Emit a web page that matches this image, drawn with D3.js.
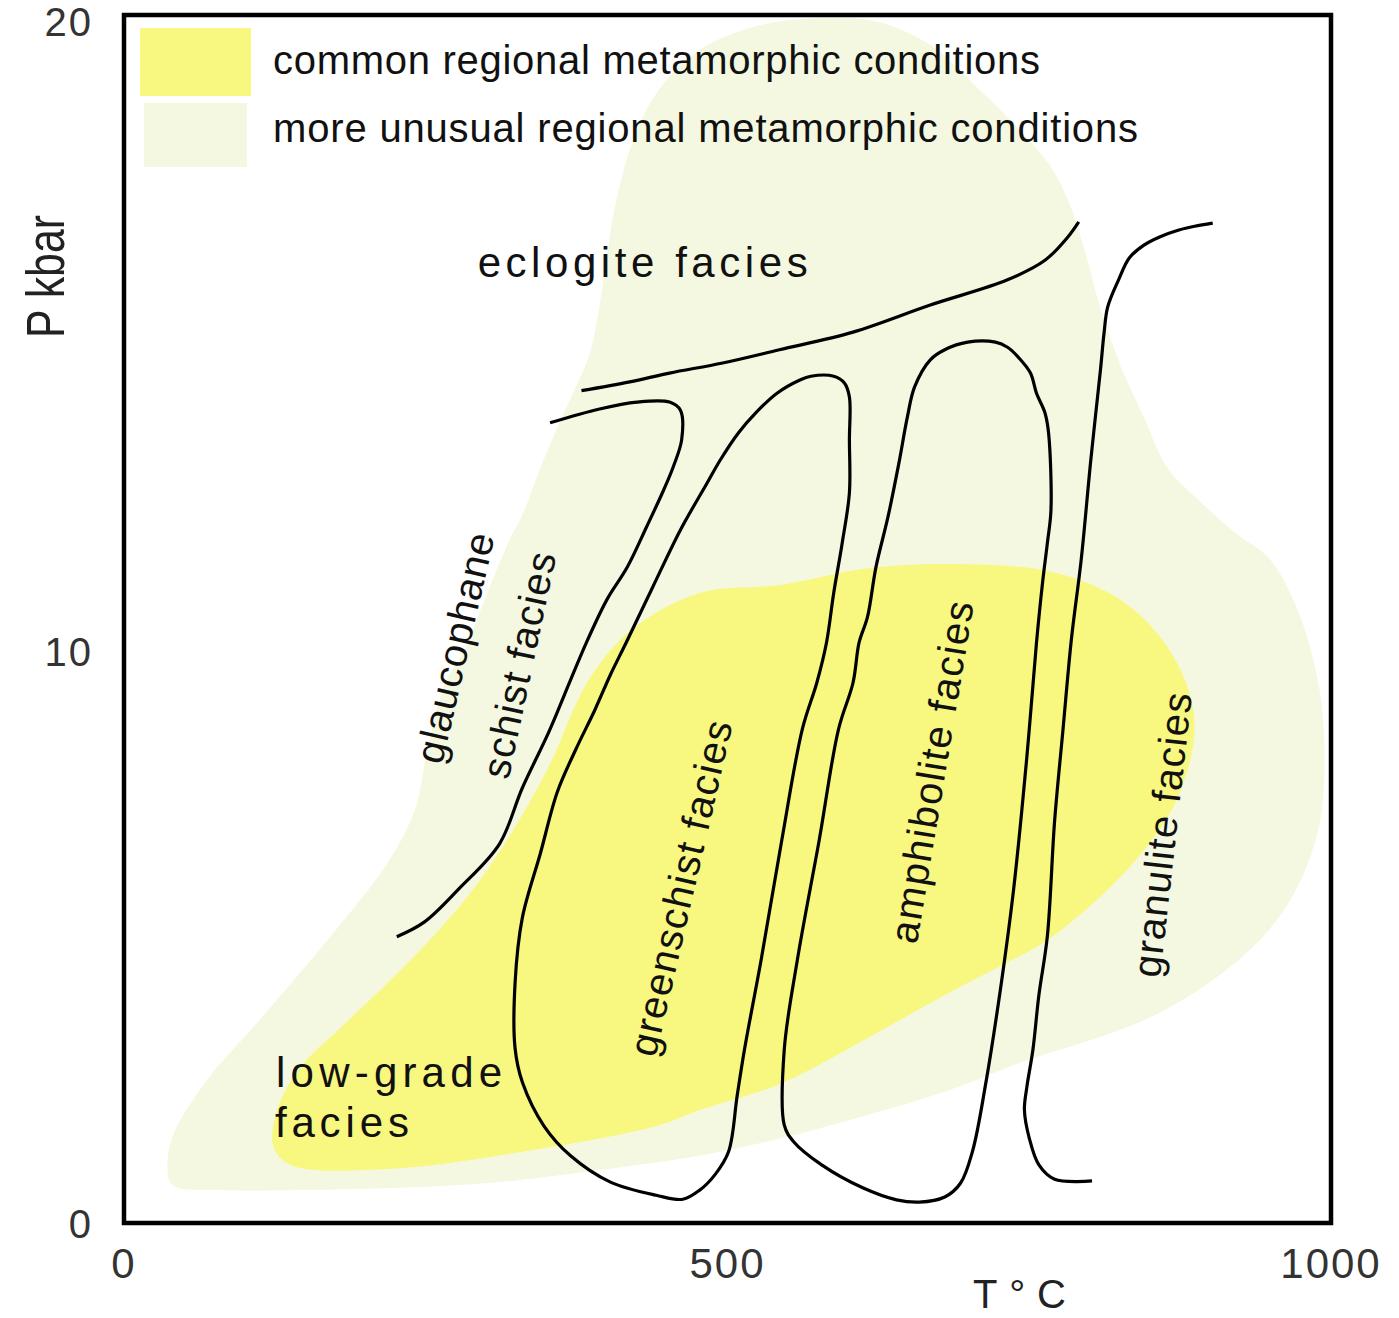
<!DOCTYPE html>
<html>
<head>
<meta charset="utf-8">
<title>regional metamorphic facies</title>
<script src="https://d3js.org/d3.v7.min.js"></script>
<style>
  body { margin: 0; background: #fff; }
  text { font-family: "Liberation Sans", Arial, sans-serif; fill: #111; }
</style>
</head>
<body>
<svg id="chart"></svg>
<script>
// outlines and boundaries, points are [T in °C, P in kbar]
const unusualRegion = [
  [40,0.63],[36,0.98],[41,1.52],[70,2.50],[108,3.41],[145,4.32],[181,5.23],[219,6.28],
  [241,7.19],[252,8.32],[267,9.46],[281,9.93],[299,10.79],[318,11.67],[331,12.17],[344,12.83],
  [357,13.43],[370,13.98],[386,14.70],[394,15.46],[403,16.62],[408,17.13],[419,17.92],[440,18.79],
  [477,19.51],[527,19.90],[585,20.02],[626,19.95],[668,19.59],[705,18.95],[742,18.24],[767,17.68],
  [782,17.13],[796,16.33],[807,15.54],[826,14.48],[845,13.68],[864,12.89],[890,12.37],[921,11.84],
  [950,11.41],[974,10.54],[989,9.46],[994,8.60],[991,6.99],[971,5.79],[944,4.98],[900,4.18],
  [849,3.55],[799,3.15],[748,2.81],[680,2.26],[610,1.82],[545,1.45],[477,1.14],[394,0.89],
  [312,0.68],[229,0.58],[146,0.54],[80,0.54]
];
const commonRegion = [
  [124,1.29],[126,1.89],[145,2.66],[181,3.41],[237,4.55],[285,5.68],[322,6.82],[352,7.95],
  [385,9.46],[422,10.33],[477,10.89],[545,11.02],[612,11.27],[680,11.35],[765,11.24],[815,10.90],
  [849,10.40],[877,9.56],[887,8.60],[873,7.40],[849,6.59],[815,5.79],[765,4.91],[731,4.51],
  [680,3.95],[612,3.15],[545,2.41],[477,1.94],[441,1.66],[330,1.21],[219,0.91],[138,0.98]
];
const eclogiteLine = [
  [379,14.10],[419,14.24],[452,14.38],[496,14.54],[543,14.75],[604,15.03],[668,15.46],
  [732,15.86],[763,16.17],[782,16.54],[791,16.78]
];
const blueschistLine = [
  [353,13.59],[394,13.81],[425,13.92],[452,13.92],[461,13.79],[462,13.32],[455,12.89],[447,12.52],
  [433,11.94],[417,11.30],[400,10.78],[384,10.14],[370,9.46],[352,8.55],[330,7.57],[311,6.59],
  [278,5.82],[249,5.23],[226,4.97]
];
const greenschistLoop = [
  [569,14.33],[560,14.27],[541,14.06],[524,13.76],[509,13.43],[494,13.00],[483,12.63],[461,11.89],
  [438,10.98],[416,10.10],[403,9.55],[390,8.93],[374,8.23],[359,7.50],[345,6.43],[330,5.30],
  [324,4.16],[324,3.02],[330,2.43],[348,1.66],[370,1.14],[403,0.68],[441,0.45],[463,0.38],
  [477,0.54],[490,0.82],[501,1.22],[508,2.19],[514,2.99],[528,4.58],[545,6.66],[562,8.60],
  [574,9.41],[582,10.10],[588,10.89],[595,11.68],[601,12.48],[601,13.32],[601,14.00],[597,14.22],
  [588,14.33]
];
const amphiboliteLoop = [
  [699,14.87],[722,14.87],[732,14.79],[741,14.63],[751,14.38],[756,14.06],[763,13.75],[766,13.43],
  [768,12.21],[765,11.68],[761,11.05],[756,10.10],[748,8.11],[737,5.79],[727,4.18],[714,2.41],
  [703,1.22],[693,0.66],[680,0.42],[659,0.33],[640,0.37],[612,0.58],[578,0.98],[555,1.38],
  [547,1.68],[547,2.99],[558,4.58],[576,6.66],[592,8.60],[604,9.41],[609,10.10],[616,10.51],
  [623,11.30],[633,12.10],[642,12.95],[649,13.68],[655,14.16],[668,14.59],[680,14.75]
];
const granuliteLine = [
  [902,16.76],[887,16.71],[874,16.65],[858,16.54],[845,16.41],[833,16.21],[824,15.86],[815,15.43],
  [812,15.02],[809,14.43],[801,13.00],[793,11.41],[785,10.17],[778,8.60],[771,6.99],[765,4.98],
  [758,3.95],[753,2.99],[748,2.34],[746,1.94],[750,1.45],[758,0.98],[771,0.73],[802,0.70]
];

// labels: text, anchor [T, P], rotation, drawn length in px
const flatLabels = [
  { text: "eclogite facies", T: 293, P: 15.90, len: 330 },
  { text: "low-grade", T: 126, P: 2.34, len: 226 },
  { text: "facies", T: 125, P: 1.47, len: 134 }
];
const tiltedLabels = [
  { text: "glaucophane", T: 274, P: 10.02, angle: -77, len: 235 },
  { text: "schist facies", T: 327, P: 9.72, angle: -78, len: 230 },
  { text: "greenschist facies", T: 461, P: 5.82, angle: -77, len: 343 },
  { text: "amphibolite facies", T: 669, P: 7.85, angle: -80.5, len: 346 },
  { text: "granulite facies", T: 860, P: 6.75, angle: -83.6, len: 286 }
];

const xTicks = [0, 500, 1000];
const yTicks = [0, 10, 20];

const legendItems = [
  { label: "common regional metamorphic conditions", color: "#f8f77f", len: 767 },
  { label: "more unusual regional metamorphic conditions", color: "#f5f8e0", len: 865 }
];

const W = 1399, H = 1318;
const box = { left: 124, right: 1331, top: 15, bottom: 1223 };

const svg = d3.select("#chart").attr("width", W).attr("height", H);

const x = d3.scaleLinear().domain([0, 1000]).range([box.left, box.right]);
// the printed 10 kbar mark sits a little below the middle of the frame
const y = d3.scaleLinear().domain([0, 10, 20]).range([1221, 649, 19]);

const area = d3.line().x(d => x(d[0])).y(d => y(d[1]));

// regions
svg.append("path")
  .attr("d", area.curve(d3.curveCatmullRomClosed.alpha(0.5))(unusualRegion))
  .attr("fill", legendItems[1].color);
svg.append("path")
  .attr("d", area.curve(d3.curveCatmullRomClosed.alpha(0.5))(commonRegion))
  .attr("fill", legendItems[0].color);

// facies boundaries
const open = d3.line().x(d => x(d[0])).y(d => y(d[1])).curve(d3.curveCatmullRom.alpha(0.5));
const closed = d3.line().x(d => x(d[0])).y(d => y(d[1])).curve(d3.curveCatmullRomClosed.alpha(0.5));

[eclogiteLine, blueschistLine, granuliteLine].forEach(pts => {
  svg.append("path").attr("d", open(pts))
    .attr("fill", "none").attr("stroke", "#000").attr("stroke-width", 3.2);
});
[greenschistLoop, amphiboliteLoop].forEach(pts => {
  svg.append("path").attr("d", closed(pts))
    .attr("fill", "none").attr("stroke", "#000").attr("stroke-width", 3.2);
});

// facies names
svg.selectAll(".flat").data(flatLabels).enter().append("text")
  .attr("class", "flat")
  .attr("x", d => x(d.T)).attr("y", d => y(d.P))
  .attr("font-size", 42)
  .attr("textLength", d => d.len).attr("lengthAdjust", "spacing")
  .text(d => d.text);

svg.selectAll(".tilt").data(tiltedLabels).enter().append("text")
  .attr("class", "tilt")
  .attr("transform", d => "translate(" + x(d.T) + "," + y(d.P) + ") rotate(" + d.angle + ")")
  .attr("text-anchor", "middle")
  .attr("dy", "0.35em")
  .attr("font-size", 40)
  .attr("textLength", d => d.len).attr("lengthAdjust", "spacing")
  .text(d => d.text);

// legend
const legend = svg.append("g");
legend.append("rect").attr("x", 140).attr("y", 28).attr("width", 111).attr("height", 68)
  .attr("fill", legendItems[0].color);
legend.append("rect").attr("x", 144).attr("y", 103).attr("width", 103).attr("height", 64)
  .attr("fill", legendItems[1].color);
legend.selectAll("text").data(legendItems).enter().append("text")
  .attr("x", 273).attr("y", (d, i) => 74 + i * 68)
  .attr("font-size", 40)
  .attr("textLength", d => d.len).attr("lengthAdjust", "spacing")
  .text(d => d.label);

// frame
svg.append("rect")
  .attr("x", box.left).attr("y", box.top)
  .attr("width", box.right - box.left).attr("height", box.bottom - box.top)
  .attr("fill", "none").attr("stroke", "#000").attr("stroke-width", 4.5);

// tick labels
svg.selectAll(".xt").data(xTicks).enter().append("text")
  .attr("class", "xt")
  .attr("x", d => x(d)).attr("y", 1278)
  .attr("text-anchor", "middle").attr("font-size", 42).attr("letter-spacing", 2)
  .style("fill", "#333")
  .text(d => d);

svg.selectAll(".yt").data(yTicks).enter().append("text")
  .attr("class", "yt")
  .attr("x", 93).attr("y", d => y(d)).attr("dy", 17)
  .attr("text-anchor", "end").attr("font-size", 40).attr("letter-spacing", 2)
  .style("fill", "#333")
  .text(d => d);

// axis titles
svg.append("text")
  .attr("x", 973).attr("y", 1308)
  .attr("font-size", 40)
  .attr("textLength", 93).attr("lengthAdjust", "spacing")
  .style("fill", "#222")
  .text("T°C");

svg.append("text")
  .attr("transform", "translate(64,338) rotate(-90)")
  .attr("font-size", 54)
  .attr("textLength", 123).attr("lengthAdjust", "spacingAndGlyphs")
  .style("fill", "#222")
  .text("P kbar");
</script>
</body>
</html>
